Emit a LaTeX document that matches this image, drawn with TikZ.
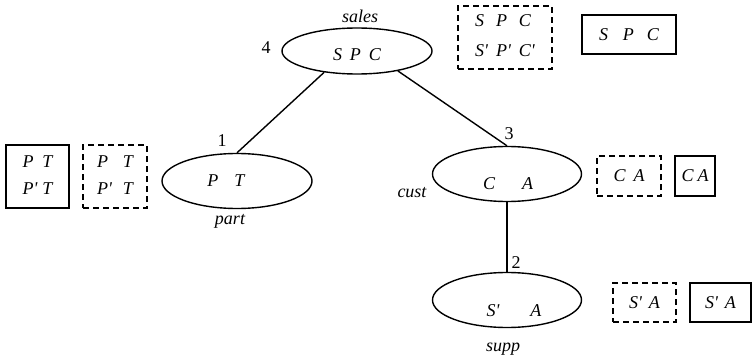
\documentclass[tikz,border=0pt]{standalone}
\usepackage{fontspec}
\setmainfont{Liberation Serif}[Ligatures=TeXOff]
\usetikzlibrary{shapes.geometric}
\begin{document}
\begin{tikzpicture}[x=1pt,y=-1pt,line width=1.4pt,
  every node/.style={font=\fontsize{18}{22}\selectfont\itshape},
  rel/.style={draw,ellipse,inner sep=0pt,minimum width=150pt,minimum height=55pt},
  sbox/.style={draw,rectangle,inner sep=0pt},
  dbox/.style={draw,rectangle,inner sep=0pt,dash pattern=on 6pt off 4pt},
  num/.style={font=\fontsize{18}{22}\selectfont\upshape},
  lbl/.style={font=\fontsize{18}{22}\selectfont\itshape}]
\useasboundingbox (0,0) rectangle (753,361);
% relation ellipses
\node[rel,minimum height=46pt] (sales) at (357,51) {};
\node[rel] (part) at (237,181) {};
\node[rel,minimum width=149pt] (cust) at (507,174) {};
\node[rel,minimum width=149pt] (supp) at (507,300) {};
% ellipse contents
\node (salest) at (357,55) {S\hspace{8pt}P\hspace{8pt}C};
\node (partt) at (226,181) {P\hspace{16pt}T};
\node (custt) at (508,184) {C\hspace{27pt}A};
\node (suppt) at (514,311) {S'\hspace{31pt}A};
% labels
\node[lbl] (lsales) at (360,16) {sales};
\node[lbl] (lpart) at (230,221) {part};
\node[lbl] (lcust) at (412,193) {cust};
\node[lbl] (lsupp) at (503,349) {supp};
\node[num] (n4) at (266,48) {4};
\node[num] (n1) at (222,141) {1};
\node[num] (n3) at (509,134) {3};
\node[num] (n2) at (516,263) {2};
% connectors
\draw (sales.213) -- (part.north);
\draw (sales.334) -- (cust.north);
\draw (cust.south) -- (supp.north);
% boxes
\node[sbox,minimum width=63pt,minimum height=63pt] (bpts) at (37.5,176.5)
  {\begin{tabular}{@{}l@{\hspace{5pt}}l@{}}P & T\\[5pt] P' & T\end{tabular}};
\node[dbox,minimum width=64pt,minimum height=63pt] (bptd) at (115,176.5)
  {\begin{tabular}{@{}l@{\hspace{11pt}}l@{}}P & T\\[5pt] P' & T\end{tabular}};
\node[dbox,minimum width=94pt,minimum height=63pt] (bspcd) at (505,37.5)
  {\begin{tabular}{@{}l@{\hspace{8pt}}l@{\hspace{8pt}}l@{}}S & P & C\\[8pt] S' & P' & C'\end{tabular}};
\node[sbox,minimum width=94pt,minimum height=39pt] (bspcs) at (629,34.5)
  {S\hspace{15pt}P\hspace{13pt}C};
\node[dbox,minimum width=64pt,minimum height=40pt] (bcad) at (629,176)
  {C\hspace{8pt}A};
\node[sbox,minimum width=40pt,minimum height=40pt] (bcas) at (695,176)
  {C\hspace{4pt}A};
\node[dbox,minimum width=63pt,minimum height=39pt] (bsad) at (644.5,302.5)
  {S'\hspace{7pt}A};
\node[sbox,minimum width=61pt,minimum height=39pt] (bsas) at (720.5,302.5)
  {S'\hspace{7pt}A};
\end{tikzpicture}
\end{document}
